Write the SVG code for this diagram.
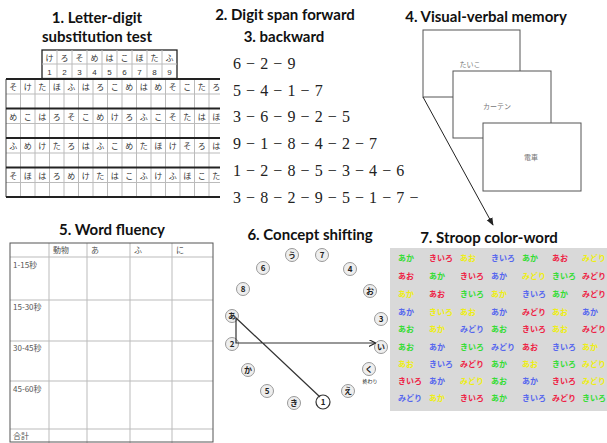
<svg xmlns="http://www.w3.org/2000/svg" width="607" height="443" viewBox="0 0 607 443">
<defs>
<style>
.title{font-family:Lato,"Liberation Sans",sans-serif;font-weight:bold;font-size:15px;fill:#111;text-anchor:middle}
.cell{font-family:"Noto Sans CJK JP",sans-serif;font-size:8px;fill:#333;text-anchor:middle}
.dig{font-family:"Liberation Sans",sans-serif;font-size:8px;fill:#333;text-anchor:middle}
.seq{font-family:"Liberation Serif",serif;font-size:16px;fill:#222;letter-spacing:0.55px}
.card{fill:#fff;stroke:#555;stroke-width:1}
.cardt{font-family:"Noto Sans CJK JP",sans-serif;font-size:7px;fill:#777;text-anchor:middle}
.wf{font-family:"Noto Sans CJK JP",sans-serif;font-size:8px;fill:#555}
.gl{stroke:#bbb;stroke-width:1}
.node circle{fill:#eee;stroke:#999;stroke-width:1}
.node text{font-family:"Noto Sans CJK JP",sans-serif;font-weight:bold;font-size:8px;fill:#222;text-anchor:middle}
.st{font-family:"Noto Sans CJK JP",sans-serif;font-size:8px;font-weight:bold}
.G{fill:#33dd33}.R{fill:#ee2244}.Y{fill:#eeee11}.B{fill:#5566ee}
</style>
<marker id="ah" viewBox="0 0 10 10" refX="9" refY="5" markerWidth="7" markerHeight="7" orient="auto" markerUnits="userSpaceOnUse">
<path d="M0,0 L10,5 L0,10" fill="none" stroke="#222" stroke-width="1.6"/>
</marker>
<marker id="ah2" viewBox="0 0 10 10" refX="9" refY="5" markerWidth="8" markerHeight="8" orient="auto" markerUnits="userSpaceOnUse">
<path d="M0,1 L10,5 L0,9 z" fill="#222"/>
</marker>
</defs>
<rect width="607" height="443" fill="#fff"/>

<!-- 1. Letter-digit substitution -->
<g id="letter-digit">
<text class="title" x="97" y="23">1. Letter-digit</text>
<text class="title" x="97" y="42">substitution test</text>
<g id="key-table">
<rect x="42" y="50" width="135" height="28.5" fill="#fff" stroke="#222" stroke-width="1.3"/>
<line x1="42" y1="64" x2="177" y2="64" class="gl"/>
<g class="gl">
<line x1="57" y1="50" x2="57" y2="78.5"/><line x1="72" y1="50" x2="72" y2="78.5"/><line x1="87" y1="50" x2="87" y2="78.5"/><line x1="102" y1="50" x2="102" y2="78.5"/><line x1="117" y1="50" x2="117" y2="78.5"/><line x1="132" y1="50" x2="132" y2="78.5"/><line x1="147" y1="50" x2="147" y2="78.5"/><line x1="162" y1="50" x2="162" y2="78.5"/>
</g>
<text class="cell" y="60.5"><tspan x="49.5">け</tspan><tspan x="64.5">ろ</tspan><tspan x="79.5">そ</tspan><tspan x="94.5">め</tspan><tspan x="109.5">は</tspan><tspan x="124.5">こ</tspan><tspan x="139.5">ほ</tspan><tspan x="154.5">た</tspan><tspan x="169.5">ふ</tspan></text>
<text class="dig" y="74.5"><tspan x="49.5">1</tspan><tspan x="64.5">2</tspan><tspan x="79.5">3</tspan><tspan x="94.5">4</tspan><tspan x="109.5">5</tspan><tspan x="124.5">6</tspan><tspan x="139.5">7</tspan><tspan x="154.5">8</tspan><tspan x="169.5">9</tspan></text>
</g>
<g id="main-table">
<g class="gl">
<line x1="20.5" y1="79" x2="20.5" y2="197"/><line x1="35" y1="79" x2="35" y2="197"/><line x1="49.5" y1="79" x2="49.5" y2="197"/><line x1="64" y1="79" x2="64" y2="197"/><line x1="78.5" y1="79" x2="78.5" y2="197"/><line x1="93" y1="79" x2="93" y2="197"/><line x1="107.5" y1="79" x2="107.5" y2="197"/><line x1="122" y1="79" x2="122" y2="197"/><line x1="136.5" y1="79" x2="136.5" y2="197"/><line x1="151" y1="79" x2="151" y2="197"/><line x1="165.5" y1="79" x2="165.5" y2="197"/><line x1="180" y1="79" x2="180" y2="197"/><line x1="194.5" y1="79" x2="194.5" y2="197"/><line x1="209" y1="79" x2="209" y2="197"/>
<line x1="6" y1="94" x2="220" y2="94"/><line x1="6" y1="123.5" x2="220" y2="123.5"/><line x1="6" y1="153" x2="220" y2="153"/><line x1="6" y1="182.5" x2="220" y2="182.5"/>
</g>
<line x1="6" y1="79" x2="6" y2="197" stroke="#444" stroke-width="1"/>
<g stroke="#222" stroke-width="1.8">
<line x1="6" y1="79" x2="220" y2="79"/><line x1="6" y1="108.5" x2="220" y2="108.5"/><line x1="6" y1="138" x2="220" y2="138"/><line x1="6" y1="167.5" x2="220" y2="167.5"/><line x1="6" y1="197" x2="220" y2="197"/>
</g>
<text class="cell" y="90"><tspan x="13.25">そ</tspan><tspan x="27.75">け</tspan><tspan x="42.25">た</tspan><tspan x="56.75">ほ</tspan><tspan x="71.25">ふ</tspan><tspan x="85.75">は</tspan><tspan x="100.25">ろ</tspan><tspan x="114.75">こ</tspan><tspan x="129.25">め</tspan><tspan x="143.75">は</tspan><tspan x="158.25">め</tspan><tspan x="172.75">そ</tspan><tspan x="187.25">こ</tspan><tspan x="201.75">た</tspan><tspan x="216.25">ろ</tspan></text>
<text class="cell" y="119.5"><tspan x="13.25">め</tspan><tspan x="27.75">こ</tspan><tspan x="42.25">は</tspan><tspan x="56.75">ろ</tspan><tspan x="71.25">そ</tspan><tspan x="85.75">こ</tspan><tspan x="100.25">め</tspan><tspan x="114.75">け</tspan><tspan x="129.25">ろ</tspan><tspan x="143.75">ふ</tspan><tspan x="158.25">こ</tspan><tspan x="172.75">そ</tspan><tspan x="187.25">た</tspan><tspan x="201.75">は</tspan><tspan x="216.25">ほ</tspan></text>
<text class="cell" y="149"><tspan x="13.25">ふ</tspan><tspan x="27.75">め</tspan><tspan x="42.25">け</tspan><tspan x="56.75">た</tspan><tspan x="71.25">ろ</tspan><tspan x="85.75">は</tspan><tspan x="100.25">ふ</tspan><tspan x="114.75">こ</tspan><tspan x="129.25">め</tspan><tspan x="143.75">た</tspan><tspan x="158.25">ほ</tspan><tspan x="172.75">け</tspan><tspan x="187.25">そ</tspan><tspan x="201.75">ろ</tspan><tspan x="216.25">は</tspan></text>
<text class="cell" y="178.5"><tspan x="13.25">そ</tspan><tspan x="27.75">ほ</tspan><tspan x="42.25">は</tspan><tspan x="56.75">ろ</tspan><tspan x="71.25">め</tspan><tspan x="85.75">け</tspan><tspan x="100.25">た</tspan><tspan x="114.75">は</tspan><tspan x="129.25">こ</tspan><tspan x="143.75">ふ</tspan><tspan x="158.25">け</tspan><tspan x="172.75">ふ</tspan><tspan x="187.25">ほ</tspan><tspan x="201.75">こ</tspan><tspan x="216.25">た</tspan></text>
</g>
</g>

<!-- 2/3 Digit span -->
<g id="digit-span">
<text class="title" x="285" y="20">2. Digit span forward</text>
<text class="title" x="284" y="42">3. backward</text>
<text class="seq" x="233" y="68.5">6 − 2 − 9</text>
<text class="seq" x="233" y="95.5">5 − 4 − 1 − 7</text>
<text class="seq" x="233" y="122">3 − 6 − 9 − 2 − 5</text>
<text class="seq" x="233" y="149">9 − 1 − 8 − 4 − 2 − 7</text>
<text class="seq" x="233" y="175.5">1 − 2 − 8 − 5 − 3 − 4 − 6</text>
<text class="seq" x="233" y="202.5">3 − 8 − 2 − 9 − 5 − 1 − 7 −</text>
</g>

<!-- 4. Visual-verbal memory -->
<g id="visual-verbal">
<text class="title" x="486" y="22">4. Visual-verbal memory</text>
<g id="card1"><rect class="card" x="423" y="30" width="97" height="67"/><text class="cardt" x="470" y="67">たいこ</text></g>
<g id="card2"><rect class="card" x="453" y="71" width="98" height="67"/><text class="cardt" x="497" y="109">カーテン</text></g>
<g id="card3"><rect class="card" x="483" y="123" width="98" height="68"/><text class="cardt" x="531" y="160">電車</text></g>
</g>

<!-- 5. Word fluency -->
<g id="word-fluency">
<text class="title" x="112" y="235">5. Word fluency</text>
<g class="gl">
<line x1="10" y1="257" x2="213" y2="257"/><line x1="10" y1="300" x2="213" y2="300"/><line x1="10" y1="341" x2="213" y2="341"/><line x1="10" y1="381" x2="213" y2="381"/><line x1="10" y1="429" x2="213" y2="429"/>
<line x1="49" y1="243" x2="49" y2="443"/><line x1="87" y1="243" x2="87" y2="443"/><line x1="130" y1="243" x2="130" y2="443"/><line x1="172" y1="243" x2="172" y2="443"/>
</g>
<rect x="10" y="243" width="203" height="199" fill="none" stroke="#555" stroke-width="1"/>
<text class="wf" y="253"><tspan x="53">動物</tspan><tspan x="91">あ</tspan><tspan x="134">ふ</tspan><tspan x="176">に</tspan></text>
<text class="wf" x="13" y="268">1-15秒</text>
<text class="wf" x="13" y="310">15-30秒</text>
<text class="wf" x="13" y="351">30-45秒</text>
<text class="wf" x="13" y="392">45-60秒</text>
<text class="wf" x="13" y="439">合計</text>
</g>

<!-- 7. Stroop background (drawn under concept shifting) -->
<rect x="390" y="248" width="217" height="163" fill="#d9d9d9"/>

<!-- 6. Concept shifting -->
<g id="concept-shifting">
<text class="title" x="310" y="240">6. Concept shifting</text>
<g id="n-u" class="node"><circle cx="292" cy="255" r="6.5"/><text x="292" y="258">う</text></g>
<g id="n-7" class="node"><circle cx="322" cy="255" r="6.5"/><text x="322" y="258">7</text></g>
<g id="n-6" class="node"><circle cx="263" cy="268" r="6.5"/><text x="263" y="271">6</text></g>
<g id="n-4" class="node"><circle cx="350" cy="269" r="6.5"/><text x="350" y="272">4</text></g>
<g id="n-8" class="node"><circle cx="243" cy="289" r="6.5"/><text x="243" y="292">8</text></g>
<g id="n-o" class="node"><circle cx="370" cy="291" r="6.5"/><text x="370" y="294">お</text></g>
<g id="n-a" class="node"><circle cx="232" cy="316" r="6.5"/><text x="232" y="319">あ</text></g>
<g id="n-3" class="node"><circle cx="381" cy="319" r="6.5"/><text x="381" y="322">3</text></g>
<g id="n-2" class="node"><circle cx="232" cy="344" r="6.5"/><text x="232" y="347">2</text></g>
<g id="n-i" class="node"><circle cx="381" cy="347" r="6.5"/><text x="381" y="350">い</text></g>
<g id="n-ka" class="node"><circle cx="248" cy="370" r="6.5"/><text x="248" y="373">か</text></g>
<g id="n-ku" class="node"><circle cx="369" cy="369" r="6.5"/><text x="369" y="372">く</text><text x="370" y="383" style="font-size:5px;font-weight:normal">終わり</text></g>
<g id="n-5" class="node"><circle cx="267" cy="391" r="6.5"/><text x="267" y="394">5</text></g>
<g id="n-e" class="node"><circle cx="348" cy="391" r="6.5"/><text x="348" y="394">え</text></g>
<g id="n-ki" class="node"><circle cx="294" cy="403" r="6.5"/><text x="294" y="406">き</text></g>
<g id="n-1" class="node"><circle cx="323" cy="402" r="7" style="fill:#fff;stroke:#333;stroke-width:1.2"/><text x="323" y="405">1</text></g>
</g>

<!-- connectors -->
<g id="connectors" fill="none" stroke="#333" stroke-width="1.2">
<line x1="423" y1="97" x2="493" y2="225" stroke="#222" stroke-width="1" marker-end="url(#ah2)"/>
<polyline points="320,397 236,318 236,343 375,343" marker-end="url(#ah)"/>
</g>

<!-- 7. Stroop color-word -->
<g id="stroop">
<text class="title" x="489" y="243">7. Stroop color-word</text>
<g class="st">
<text y="261"><tspan x="398" class="G">あか</tspan><tspan x="429" class="R">きいろ</tspan><tspan x="460" class="Y">あお</tspan><tspan x="491" class="B">きいろ</tspan><tspan x="522" class="G">あか</tspan><tspan x="552" class="R">あお</tspan><tspan x="582" class="Y">みどり</tspan></text>
<text y="279"><tspan x="398" class="R">あお</tspan><tspan x="429" class="G">あか</tspan><tspan x="460" class="R">きいろ</tspan><tspan x="491" class="B">あか</tspan><tspan x="522" class="Y">みどり</tspan><tspan x="552" class="G">きいろ</tspan><tspan x="582" class="R">みどり</tspan></text>
<text y="297"><tspan x="398" class="Y">あか</tspan><tspan x="429" class="R">あお</tspan><tspan x="460" class="G">きいろ</tspan><tspan x="491" class="Y">あか</tspan><tspan x="522" class="B">きいろ</tspan><tspan x="552" class="G">あか</tspan><tspan x="582" class="R">みどり</tspan></text>
<text y="315"><tspan x="398" class="B">あか</tspan><tspan x="429" class="Y">きいろ</tspan><tspan x="460" class="Y">あお</tspan><tspan x="491" class="B">あか</tspan><tspan x="522" class="R">みどり</tspan><tspan x="552" class="Y">あお</tspan><tspan x="582" class="B">あか</tspan></text>
<text y="332"><tspan x="398" class="G">あお</tspan><tspan x="429" class="Y">あか</tspan><tspan x="460" class="B">みどり</tspan><tspan x="491" class="G">あお</tspan><tspan x="522" class="R">きいろ</tspan><tspan x="552" class="Y">あお</tspan><tspan x="582" class="R">みどり</tspan></text>
<text y="350"><tspan x="398" class="G">あお</tspan><tspan x="429" class="B">あか</tspan><tspan x="460" class="G">きいろ</tspan><tspan x="491" class="B">みどり</tspan><tspan x="522" class="R">あお</tspan><tspan x="552" class="B">きいろ</tspan><tspan x="582" class="Y">あか</tspan></text>
<text y="367"><tspan x="398" class="Y">あお</tspan><tspan x="429" class="B">きいろ</tspan><tspan x="460" class="R">みどり</tspan><tspan x="491" class="G">あか</tspan><tspan x="522" class="Y">あお</tspan><tspan x="552" class="G">きいろ</tspan><tspan x="582" class="Y">みどり</tspan></text>
<text y="384"><tspan x="398" class="R">きいろ</tspan><tspan x="429" class="B">あか</tspan><tspan x="460" class="Y">みどり</tspan><tspan x="491" class="G">あお</tspan><tspan x="522" class="B">あか</tspan><tspan x="552" class="R">きいろ</tspan><tspan x="582" class="Y">みどり</tspan></text>
<text y="401"><tspan x="398" class="B">みどり</tspan><tspan x="429" class="Y">あか</tspan><tspan x="460" class="R">きいろ</tspan><tspan x="491" class="G">あか</tspan><tspan x="522" class="B">きいろ</tspan><tspan x="552" class="R">みどり</tspan><tspan x="582" class="G">きいろ</tspan></text>
</g>
</g>
</svg>
